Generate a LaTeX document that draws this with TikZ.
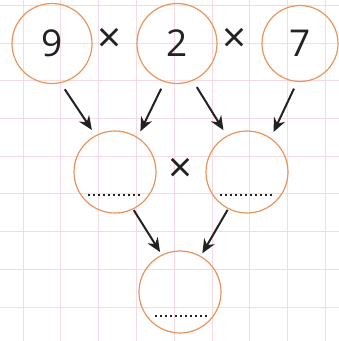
\documentclass[tikz,border=0pt]{standalone}
\usepackage{fontspec}
\setmainfont{Open Sans}
\usetikzlibrary{arrows.meta}

\definecolor{gridpink}{HTML}{F7D9E0}
\definecolor{ringorange}{HTML}{E8955C}
\definecolor{inkgray}{HTML}{222222}

\tikzset{
  ring/.style={circle,draw=ringorange,line width=1.2pt,minimum size=80pt,inner sep=0pt,outer sep=0pt,
    font=\fontsize{37}{37}\selectfont,text=inkgray},
  arr/.style={inkgray,line width=2pt,-{Stealth[length=14pt,width=12pt]}},
  blank/.style={inkgray,line width=2pt,dash pattern=on 2pt off 3pt},
  timesign/.style={font=\fontsize{42}{42}\selectfont,text=inkgray,inner sep=0pt}
}

\begin{document}
\begin{tikzpicture}[x=1pt,y=-1pt]
\useasboundingbox (0,0) rectangle (339,341);
% squared paper
\foreach \i in {0,...,8} \draw[gridpink,line width=0.9pt] (23+37.8*\i,0) -- (23+37.8*\i,341);
\foreach \i in {0,...,8} \draw[gridpink,line width=0.9pt] (0,5.4+37.7*\i) -- (339,5.4+37.7*\i);
% numbers
\node[ring] (n9) at (52,43.5) {9};
\node[ring] (n2) at (177,43.5) {2};
\node[ring,minimum size=76pt] (n7) at (300,43.5) {7};
\node[timesign] (x1) at (110,40) {×};
\node[timesign] (x2) at (234.5,40) {×};
% products
\node[ring,minimum size=82pt] (ml) at (115,172) {};
\node[ring,minimum size=82pt] (mr) at (247,172) {};
\node[timesign] (x3) at (180.5,170) {×};
\node[ring,minimum size=82pt] (bot) at (180,292) {};
% blanks
\draw[blank] ([shift={(-27,23)}]ml.center) -- ++(54,0);
\draw[blank] ([shift={(-27,23)}]mr.center) -- ++(54,0);
\draw[blank] ([shift={(-25,24)}]bot.center) -- ++(53,0);
% arrows
\draw[arr,shorten <=8pt,shorten >=7pt] (n9.-78) -- (ml.118);
\draw[arr,shorten <=8pt,shorten >=7pt] (n2.-108) -- (ml.57);
\draw[arr,shorten <=8pt,shorten >=7pt] (n2.-67) -- (mr.119);
\draw[arr,shorten <=8pt,shorten >=7pt] (n7.-94) -- (mr.55);
\draw[arr,shorten <=1.5pt,shorten >=3.7pt] (ml.-64) -- (bot.116);
\draw[arr,shorten <=1.5pt,shorten >=3.7pt] (mr.-117) -- (bot.60);
\end{tikzpicture}
\end{document}
